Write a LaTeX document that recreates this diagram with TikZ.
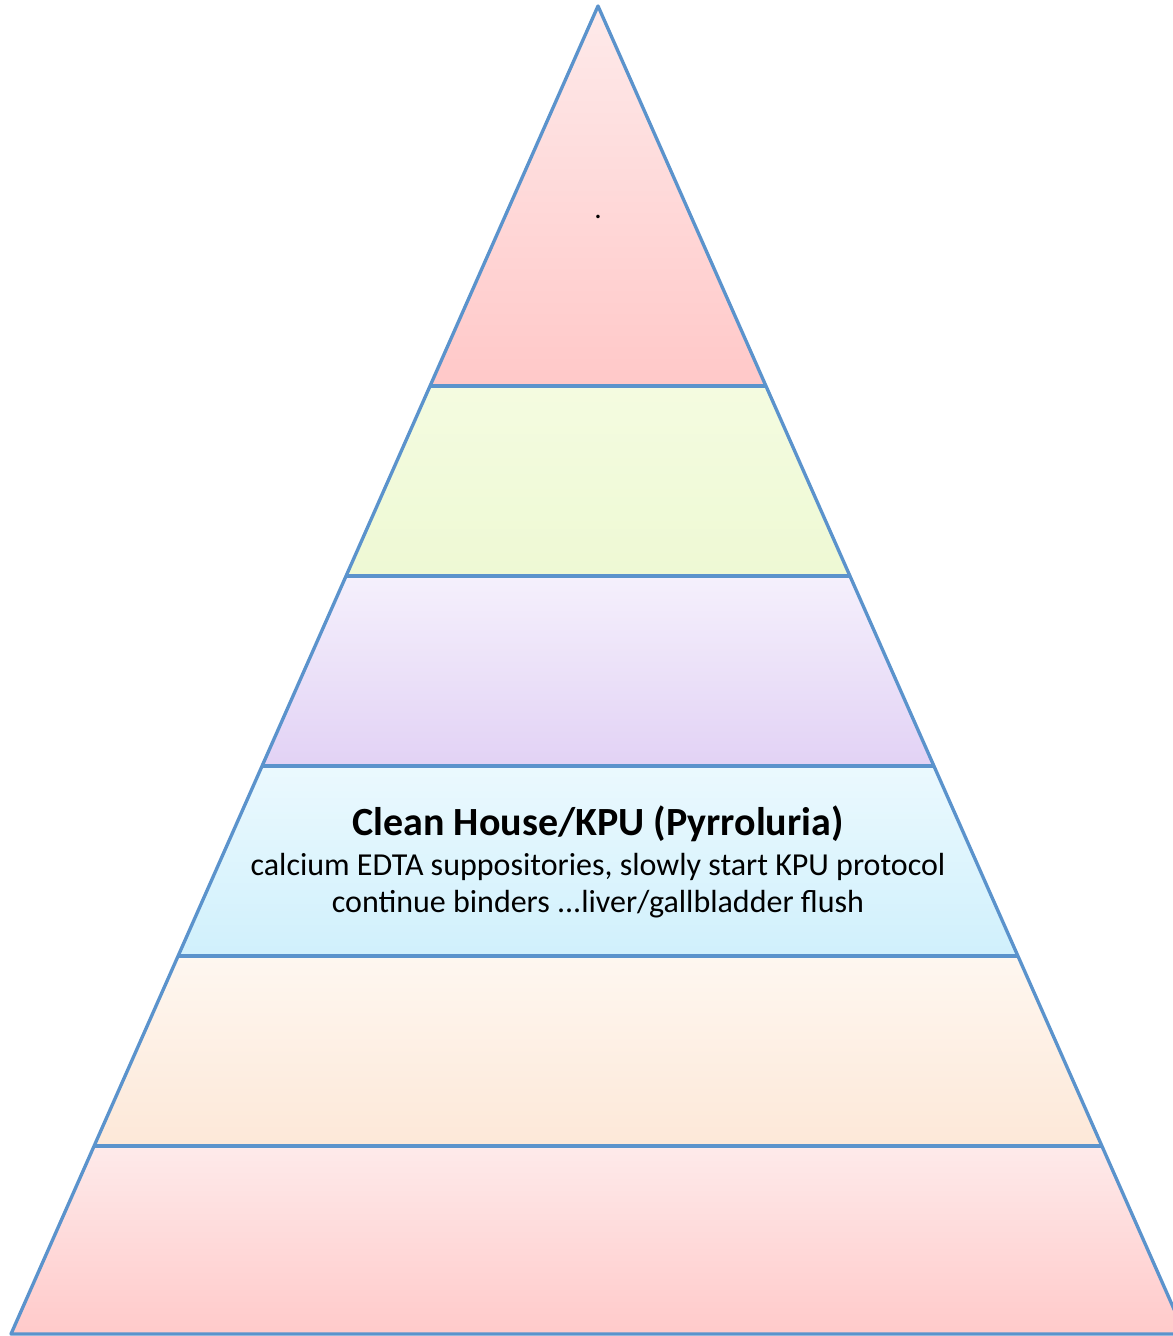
\documentclass[tikz,border=0pt]{standalone}
\usepackage{fontspec}
\setmainfont{Carlito}
\usepackage{xcolor}
\definecolor{edgeblue}{RGB}{91,147,204}

\begin{document}
\begin{tikzpicture}[x=0.75pt,y=0.75pt,yscale=-1,xscale=1]
\useasboundingbox (0,0) rectangle (1173,1336);

%Coordinates of the pyramid edges
\coordinate (apex) at (598,6);
\coordinate (l1) at (430,386);  \coordinate (r1) at (766,386);
\coordinate (l2) at (346,576);  \coordinate (r2) at (850,576);
\coordinate (l3) at (262,766);  \coordinate (r3) at (934,766);
\coordinate (l4) at (178,956);  \coordinate (r4) at (1018,956);
\coordinate (l5) at (94,1146);  \coordinate (r5) at (1102,1146);
\coordinate (l6) at (11,1334);  \coordinate (r6) at (1185,1334);

%Shape: Triangle [top band]
\shade [top color={rgb,255:red,254;green,234;blue,234}, bottom color={rgb,255:red,255;green,200;blue,200}] (apex) -- (r1) -- (l1) -- cycle ;
%Shape: Trapezoid [green band]
\shade [top color={rgb,255:red,244;green,251;blue,224}, bottom color={rgb,255:red,238;green,249;blue,212}] (l1) -- (r1) -- (r2) -- (l2) -- cycle ;
%Shape: Trapezoid [purple band]
\shade [top color={rgb,255:red,245;green,240;blue,252}, bottom color={rgb,255:red,226;green,210;blue,245}] (l2) -- (r2) -- (r3) -- (l3) -- cycle ;
%Shape: Trapezoid [blue band]
\shade [top color={rgb,255:red,235;green,249;blue,254}, bottom color={rgb,255:red,208;green,240;blue,252}] (l3) -- (r3) -- (r4) -- (l4) -- cycle ;
%Shape: Trapezoid [orange band]
\shade [top color={rgb,255:red,254;green,247;blue,240}, bottom color={rgb,255:red,253;green,232;blue,216}] (l4) -- (r4) -- (r5) -- (l5) -- cycle ;
%Shape: Trapezoid [bottom band]
\shade [top color={rgb,255:red,254;green,234;blue,234}, bottom color={rgb,255:red,255;green,202;blue,202}] (l5) -- (r5) -- (r6) -- (l6) -- cycle ;

%Straight Lines [outline]
\draw [color=edgeblue, line width=2.5pt, line join=round] (apex) -- (r6) -- (l6) -- cycle ;
%Straight Lines [band borders]
\draw [color=edgeblue, line width=2.5pt] (l1) -- (r1) ;
\draw [color=edgeblue, line width=2.5pt] (l2) -- (r2) ;
\draw [color=edgeblue, line width=2.5pt] (l3) -- (r3) ;
\draw [color=edgeblue, line width=2.5pt] (l4) -- (r4) ;
\draw [color=edgeblue, line width=2.5pt] (l5) -- (r5) ;

% Text Node
\draw (598,217) node [inner sep=0.75pt] (dot) {\fontsize{22}{26}\selectfont .};
% Text Node
\draw (598,862) node [inner sep=0.75pt, align=center, font=\fontsize{24}{27.75}\selectfont] (kpu) {{\fontsize{30}{31.5}\selectfont\bfseries Clean House/KPU (Pyrroluria)}\\[2pt]
calcium EDTA suppositories, slowly start KPU protocol\\
continue binders ...liver/gallbladder flush};

\end{tikzpicture}
\end{document}
